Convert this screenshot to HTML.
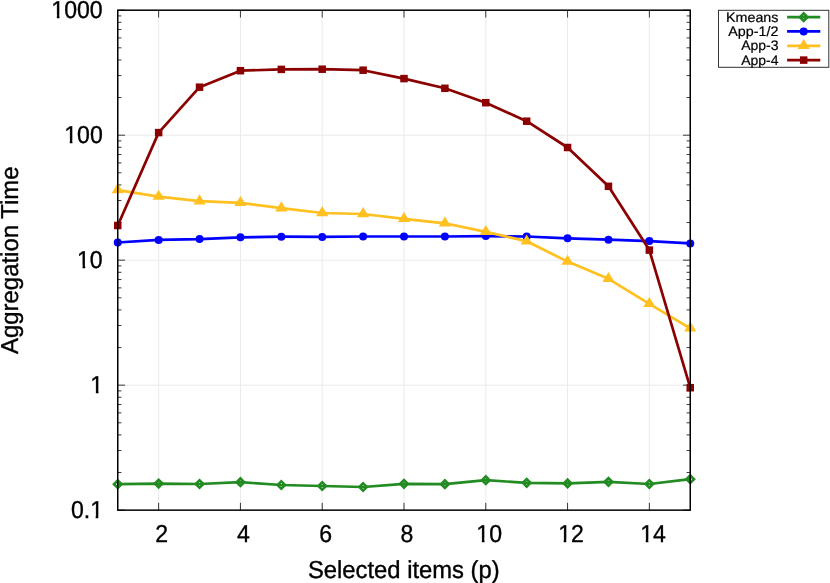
<!DOCTYPE html>
<html><head><meta charset="utf-8"><title>Aggregation Time</title>
<style>
html,body{margin:0;padding:0;background:#fff;}
body{width:830px;height:583px;overflow:hidden;position:relative;font-family:"Liberation Sans",sans-serif;}
.t{font-family:"Liberation Sans",sans-serif;fill:#000;text-rendering:geometricPrecision;}
</style></head><body>
<svg width="830" height="583" viewBox="0 0 830 583" style="position:absolute;left:0;top:0;will-change:transform">
<rect x="0" y="0" width="830" height="583" fill="#ffffff"/>
<line x1="158.64" y1="10.20" x2="158.64" y2="510.15" stroke="#eaeaea" stroke-width="1"/>
<line x1="240.43" y1="10.20" x2="240.43" y2="510.15" stroke="#eaeaea" stroke-width="1"/>
<line x1="322.21" y1="10.20" x2="322.21" y2="510.15" stroke="#eaeaea" stroke-width="1"/>
<line x1="404.00" y1="10.20" x2="404.00" y2="510.15" stroke="#eaeaea" stroke-width="1"/>
<line x1="485.79" y1="10.20" x2="485.79" y2="510.15" stroke="#eaeaea" stroke-width="1"/>
<line x1="567.57" y1="10.20" x2="567.57" y2="510.15" stroke="#eaeaea" stroke-width="1"/>
<line x1="649.36" y1="10.20" x2="649.36" y2="510.15" stroke="#eaeaea" stroke-width="1"/>
<line x1="117.75" y1="385.16" x2="690.25" y2="385.16" stroke="#eaeaea" stroke-width="1"/>
<line x1="117.75" y1="260.17" x2="690.25" y2="260.17" stroke="#eaeaea" stroke-width="1"/>
<line x1="117.75" y1="135.19" x2="690.25" y2="135.19" stroke="#eaeaea" stroke-width="1"/>
<path d="M158.64 510.15V502.85M158.64 10.20V17.50M240.43 510.15V502.85M240.43 10.20V17.50M322.21 510.15V502.85M322.21 10.20V17.50M404.00 510.15V502.85M404.00 10.20V17.50M485.79 510.15V502.85M485.79 10.20V17.50M567.57 510.15V502.85M567.57 10.20V17.50M649.36 510.15V502.85M649.36 10.20V17.50M117.75 510.15H125.05M690.25 510.15H682.95M117.75 472.53H121.45M690.25 472.53H686.55M117.75 450.52H121.45M690.25 450.52H686.55M117.75 434.90H121.45M690.25 434.90H686.55M117.75 422.79H121.45M690.25 422.79H686.55M117.75 412.89H121.45M690.25 412.89H686.55M117.75 404.52H121.45M690.25 404.52H686.55M117.75 397.28H121.45M690.25 397.28H686.55M117.75 390.88H121.45M690.25 390.88H686.55M117.75 385.16H125.05M690.25 385.16H682.95M117.75 347.54H121.45M690.25 347.54H686.55M117.75 325.53H121.45M690.25 325.53H686.55M117.75 309.91H121.45M690.25 309.91H686.55M117.75 297.80H121.45M690.25 297.80H686.55M117.75 287.90H121.45M690.25 287.90H686.55M117.75 279.54H121.45M690.25 279.54H686.55M117.75 272.29H121.45M690.25 272.29H686.55M117.75 265.89H121.45M690.25 265.89H686.55M117.75 260.17H125.05M690.25 260.17H682.95M117.75 222.55H121.45M690.25 222.55H686.55M117.75 200.54H121.45M690.25 200.54H686.55M117.75 184.93H121.45M690.25 184.93H686.55M117.75 172.81H121.45M690.25 172.81H686.55M117.75 162.92H121.45M690.25 162.92H686.55M117.75 154.55H121.45M690.25 154.55H686.55M117.75 147.30H121.45M690.25 147.30H686.55M117.75 140.91H121.45M690.25 140.91H686.55M117.75 135.19H125.05M690.25 135.19H682.95M117.75 97.56H121.45M690.25 97.56H686.55M117.75 75.55H121.45M690.25 75.55H686.55M117.75 59.94H121.45M690.25 59.94H686.55M117.75 47.82H121.45M690.25 47.82H686.55M117.75 37.93H121.45M690.25 37.93H686.55M117.75 29.56H121.45M690.25 29.56H686.55M117.75 22.31H121.45M690.25 22.31H686.55M117.75 15.92H121.45M690.25 15.92H686.55M117.75 10.20H125.05M690.25 10.20H682.95" fill="none" stroke="#000" stroke-width="0.78"/>
<polyline points="117.75,484.20 158.64,483.60 199.54,484.00 240.43,482.20 281.32,485.00 322.21,486.00 363.11,487.00 404.00,483.80 444.89,484.20 485.79,480.20 526.68,482.80 567.57,483.40 608.46,481.80 649.36,484.00 690.25,479.20" fill="none" stroke="#228b22" stroke-width="2.7" stroke-linejoin="round" stroke-linecap="butt"/>
<path d="M112.15 484.20L117.75 478.60L123.35 484.20L117.75 489.80ZM115.85 484.20L117.75 482.30L119.65 484.20L117.75 486.10Z" fill="#228b22" fill-rule="evenodd"/>
<path d="M153.04 483.60L158.64 478.00L164.24 483.60L158.64 489.20ZM156.74 483.60L158.64 481.70L160.54 483.60L158.64 485.50Z" fill="#228b22" fill-rule="evenodd"/>
<path d="M193.94 484.00L199.54 478.40L205.14 484.00L199.54 489.60ZM197.64 484.00L199.54 482.10L201.44 484.00L199.54 485.90Z" fill="#228b22" fill-rule="evenodd"/>
<path d="M234.83 482.20L240.43 476.60L246.03 482.20L240.43 487.80ZM238.53 482.20L240.43 480.30L242.33 482.20L240.43 484.10Z" fill="#228b22" fill-rule="evenodd"/>
<path d="M275.72 485.00L281.32 479.40L286.92 485.00L281.32 490.60ZM279.42 485.00L281.32 483.10L283.22 485.00L281.32 486.90Z" fill="#228b22" fill-rule="evenodd"/>
<path d="M316.61 486.00L322.21 480.40L327.81 486.00L322.21 491.60ZM320.31 486.00L322.21 484.10L324.11 486.00L322.21 487.90Z" fill="#228b22" fill-rule="evenodd"/>
<path d="M357.51 487.00L363.11 481.40L368.71 487.00L363.11 492.60ZM361.21 487.00L363.11 485.10L365.01 487.00L363.11 488.90Z" fill="#228b22" fill-rule="evenodd"/>
<path d="M398.40 483.80L404.00 478.20L409.60 483.80L404.00 489.40ZM402.10 483.80L404.00 481.90L405.90 483.80L404.00 485.70Z" fill="#228b22" fill-rule="evenodd"/>
<path d="M439.29 484.20L444.89 478.60L450.49 484.20L444.89 489.80ZM442.99 484.20L444.89 482.30L446.79 484.20L444.89 486.10Z" fill="#228b22" fill-rule="evenodd"/>
<path d="M480.19 480.20L485.79 474.60L491.39 480.20L485.79 485.80ZM483.89 480.20L485.79 478.30L487.69 480.20L485.79 482.10Z" fill="#228b22" fill-rule="evenodd"/>
<path d="M521.08 482.80L526.68 477.20L532.28 482.80L526.68 488.40ZM524.78 482.80L526.68 480.90L528.58 482.80L526.68 484.70Z" fill="#228b22" fill-rule="evenodd"/>
<path d="M561.97 483.40L567.57 477.80L573.17 483.40L567.57 489.00ZM565.67 483.40L567.57 481.50L569.47 483.40L567.57 485.30Z" fill="#228b22" fill-rule="evenodd"/>
<path d="M602.86 481.80L608.46 476.20L614.06 481.80L608.46 487.40ZM606.56 481.80L608.46 479.90L610.36 481.80L608.46 483.70Z" fill="#228b22" fill-rule="evenodd"/>
<path d="M643.76 484.00L649.36 478.40L654.96 484.00L649.36 489.60ZM647.46 484.00L649.36 482.10L651.26 484.00L649.36 485.90Z" fill="#228b22" fill-rule="evenodd"/>
<path d="M684.65 479.20L690.25 473.60L695.85 479.20L690.25 484.80ZM688.35 479.20L690.25 477.30L692.15 479.20L690.25 481.10Z" fill="#228b22" fill-rule="evenodd"/>
<polyline points="117.75,242.50 158.64,239.90 199.54,239.10 240.43,237.30 281.32,236.70 322.21,236.90 363.11,236.50 404.00,236.50 444.89,236.50 485.79,236.10 526.68,236.50 567.57,238.30 608.46,239.70 649.36,241.10 690.25,243.40" fill="none" stroke="#0000ff" stroke-width="2.7" stroke-linejoin="round" stroke-linecap="butt"/>
<circle cx="117.75" cy="242.50" r="4.0" fill="#0000ff"/>
<circle cx="158.64" cy="239.90" r="4.0" fill="#0000ff"/>
<circle cx="199.54" cy="239.10" r="4.0" fill="#0000ff"/>
<circle cx="240.43" cy="237.30" r="4.0" fill="#0000ff"/>
<circle cx="281.32" cy="236.70" r="4.0" fill="#0000ff"/>
<circle cx="322.21" cy="236.90" r="4.0" fill="#0000ff"/>
<circle cx="363.11" cy="236.50" r="4.0" fill="#0000ff"/>
<circle cx="404.00" cy="236.50" r="4.0" fill="#0000ff"/>
<circle cx="444.89" cy="236.50" r="4.0" fill="#0000ff"/>
<circle cx="485.79" cy="236.10" r="4.0" fill="#0000ff"/>
<circle cx="526.68" cy="236.50" r="4.0" fill="#0000ff"/>
<circle cx="567.57" cy="238.30" r="4.0" fill="#0000ff"/>
<circle cx="608.46" cy="239.70" r="4.0" fill="#0000ff"/>
<circle cx="649.36" cy="241.10" r="4.0" fill="#0000ff"/>
<circle cx="690.25" cy="243.40" r="4.0" fill="#0000ff"/>
<polyline points="117.75,190.10 158.64,196.60 199.54,201.20 240.43,202.80 281.32,208.20 322.21,213.00 363.11,214.00 404.00,218.80 444.89,223.30 485.79,231.90 526.68,241.30 567.57,261.60 608.46,278.80 649.36,303.90 690.25,328.30" fill="none" stroke="#ffc020" stroke-width="2.7" stroke-linejoin="round" stroke-linecap="butt"/>
<path d="M117.75 183.20L111.65 193.30L123.85 193.30Z" fill="#ffc020"/>
<path d="M158.64 189.70L152.54 199.80L164.74 199.80Z" fill="#ffc020"/>
<path d="M199.54 194.30L193.44 204.40L205.64 204.40Z" fill="#ffc020"/>
<path d="M240.43 195.90L234.33 206.00L246.53 206.00Z" fill="#ffc020"/>
<path d="M281.32 201.30L275.22 211.40L287.42 211.40Z" fill="#ffc020"/>
<path d="M322.21 206.10L316.11 216.20L328.31 216.20Z" fill="#ffc020"/>
<path d="M363.11 207.10L357.01 217.20L369.21 217.20Z" fill="#ffc020"/>
<path d="M404.00 211.90L397.90 222.00L410.10 222.00Z" fill="#ffc020"/>
<path d="M444.89 216.40L438.79 226.50L450.99 226.50Z" fill="#ffc020"/>
<path d="M485.79 225.00L479.69 235.10L491.89 235.10Z" fill="#ffc020"/>
<path d="M526.68 234.40L520.58 244.50L532.78 244.50Z" fill="#ffc020"/>
<path d="M567.57 254.70L561.47 264.80L573.67 264.80Z" fill="#ffc020"/>
<path d="M608.46 271.90L602.36 282.00L614.56 282.00Z" fill="#ffc020"/>
<path d="M649.36 297.00L643.26 307.10L655.46 307.10Z" fill="#ffc020"/>
<path d="M690.25 321.40L684.15 331.50L696.35 331.50Z" fill="#ffc020"/>
<polyline points="117.75,225.50 158.64,132.60 199.54,87.20 240.43,70.70 281.32,69.40 322.21,69.20 363.11,70.20 404.00,78.60 444.89,88.30 485.79,102.70 526.68,121.20 567.57,147.50 608.46,186.30 649.36,250.10 690.25,387.70" fill="none" stroke="#8b0000" stroke-width="2.7" stroke-linejoin="round" stroke-linecap="butt"/>
<rect x="114.00" y="221.75" width="7.50" height="7.50" fill="#8b0000"/>
<rect x="154.89" y="128.85" width="7.50" height="7.50" fill="#8b0000"/>
<rect x="195.79" y="83.45" width="7.50" height="7.50" fill="#8b0000"/>
<rect x="236.68" y="66.95" width="7.50" height="7.50" fill="#8b0000"/>
<rect x="277.57" y="65.65" width="7.50" height="7.50" fill="#8b0000"/>
<rect x="318.46" y="65.45" width="7.50" height="7.50" fill="#8b0000"/>
<rect x="359.36" y="66.45" width="7.50" height="7.50" fill="#8b0000"/>
<rect x="400.25" y="74.85" width="7.50" height="7.50" fill="#8b0000"/>
<rect x="441.14" y="84.55" width="7.50" height="7.50" fill="#8b0000"/>
<rect x="482.04" y="98.95" width="7.50" height="7.50" fill="#8b0000"/>
<rect x="522.93" y="117.45" width="7.50" height="7.50" fill="#8b0000"/>
<rect x="563.82" y="143.75" width="7.50" height="7.50" fill="#8b0000"/>
<rect x="604.71" y="182.55" width="7.50" height="7.50" fill="#8b0000"/>
<rect x="645.61" y="246.35" width="7.50" height="7.50" fill="#8b0000"/>
<rect x="686.50" y="383.95" width="7.50" height="7.50" fill="#8b0000"/>
<rect x="117.75" y="10.20" width="572.50" height="499.95" fill="none" stroke="#000" stroke-width="1.5"/>
<rect x="718.50" y="10.30" width="110.30" height="57.00" fill="none" stroke="#333" stroke-width="1"/>
<line x1="787.1" y1="17.20" x2="820.3" y2="17.20" stroke="#228b22" stroke-width="2.7"/>
<path d="M798.10 17.20L803.70 11.60L809.30 17.20L803.70 22.80ZM801.80 17.20L803.70 15.30L805.60 17.20L803.70 19.10Z" fill="#228b22" fill-rule="evenodd"/>
<g transform="translate(778.50 21.70) scale(1.047 1.0)"><text text-anchor="end" font-size="13.7" stroke="#000" stroke-width="0.2" class="t">Kmeans</text></g>
<line x1="787.1" y1="31.45" x2="820.3" y2="31.45" stroke="#0000ff" stroke-width="2.7"/>
<circle cx="803.70" cy="31.45" r="4.0" fill="#0000ff"/>
<g transform="translate(778.50 35.95) scale(1.047 1.0)"><text text-anchor="end" font-size="13.7" stroke="#000" stroke-width="0.2" class="t">App-1/2</text></g>
<line x1="787.1" y1="45.90" x2="820.3" y2="45.90" stroke="#ffc020" stroke-width="2.7"/>
<path d="M803.70 39.00L797.60 49.10L809.80 49.10Z" fill="#ffc020"/>
<g transform="translate(778.50 50.40) scale(1.022 1.0)"><text text-anchor="end" font-size="13.7" stroke="#000" stroke-width="0.2" class="t">App-3</text></g>
<line x1="787.1" y1="60.10" x2="820.3" y2="60.10" stroke="#8b0000" stroke-width="2.7"/>
<rect x="799.95" y="56.35" width="7.50" height="7.50" fill="#8b0000"/>
<g transform="translate(778.50 64.60) scale(1.022 1.0)"><text text-anchor="end" font-size="13.7" stroke="#000" stroke-width="0.2" class="t">App-4</text></g>
<g transform="translate(102.70 17.60) scale(0.97 1.03)"><text text-anchor="end" font-size="23.8" stroke="#000" stroke-width="0.35" class="t">1000</text><rect x="-52.233" y="-2.378" width="4.952" height="3.978" fill="#fff"/><rect x="-44.537" y="-2.378" width="4.766" height="3.978" fill="#fff"/></g>
<g transform="translate(102.80 142.66) scale(0.97 1.03)"><text text-anchor="end" font-size="23.8" stroke="#000" stroke-width="0.35" class="t">100</text><rect x="-38.996" y="-2.378" width="4.952" height="3.978" fill="#fff"/><rect x="-31.301" y="-2.378" width="4.766" height="3.978" fill="#fff"/></g>
<g transform="translate(102.70 267.52) scale(0.97 1.03)"><text text-anchor="end" font-size="23.8" stroke="#000" stroke-width="0.35" class="t">10</text><rect x="-25.760" y="-2.378" width="4.952" height="3.978" fill="#fff"/><rect x="-18.065" y="-2.378" width="4.766" height="3.978" fill="#fff"/></g>
<g transform="translate(103.20 393.20) scale(0.97 1.03)"><text text-anchor="end" font-size="23.8" stroke="#000" stroke-width="0.35" class="t">1</text><rect x="-12.524" y="-2.378" width="4.952" height="3.978" fill="#fff"/><rect x="-4.828" y="-2.378" width="4.766" height="3.978" fill="#fff"/></g>
<g transform="translate(103.00 518.30) scale(0.97 1.03)"><text text-anchor="end" font-size="23.8" stroke="#000" stroke-width="0.35" class="t">0.1</text><rect x="-12.524" y="-2.378" width="4.952" height="3.978" fill="#fff"/><rect x="-4.828" y="-2.378" width="4.766" height="3.978" fill="#fff"/></g>
<g transform="translate(161.79 541.90) scale(0.97 1.03)"><text text-anchor="middle" font-size="23.8" stroke="#000" stroke-width="0.35" class="t">2</text></g>
<g transform="translate(243.43 541.90) scale(0.97 1.03)"><text text-anchor="middle" font-size="23.8" stroke="#000" stroke-width="0.35" class="t">4</text></g>
<g transform="translate(325.61 541.90) scale(0.97 1.03)"><text text-anchor="middle" font-size="23.8" stroke="#000" stroke-width="0.35" class="t">6</text></g>
<g transform="translate(406.90 541.90) scale(0.97 1.03)"><text text-anchor="middle" font-size="23.8" stroke="#000" stroke-width="0.35" class="t">8</text></g>
<g transform="translate(489.19 541.90) scale(0.97 1.03)"><text text-anchor="middle" font-size="23.8" stroke="#000" stroke-width="0.35" class="t">10</text><rect x="-12.524" y="-2.378" width="4.952" height="3.978" fill="#fff"/><rect x="-4.828" y="-2.378" width="4.766" height="3.978" fill="#fff"/></g>
<g transform="translate(570.97 541.90) scale(0.97 1.03)"><text text-anchor="middle" font-size="23.8" stroke="#000" stroke-width="0.35" class="t">12</text><rect x="-12.524" y="-2.378" width="4.952" height="3.978" fill="#fff"/><rect x="-4.828" y="-2.378" width="4.766" height="3.978" fill="#fff"/></g>
<g transform="translate(653.06 541.90) scale(0.97 1.03)"><text text-anchor="middle" font-size="23.8" stroke="#000" stroke-width="0.35" class="t">14</text><rect x="-12.524" y="-2.378" width="4.952" height="3.978" fill="#fff"/><rect x="-4.828" y="-2.378" width="4.766" height="3.978" fill="#fff"/></g>
<g transform="translate(403.80 577.60) scale(1.0 1.03)"><text text-anchor="middle" font-size="23.8" stroke="#000" stroke-width="0.35" class="t">Selected items (p)</text></g>
<g transform="translate(18.00 260.25) rotate(-90) scale(1.005 1.03)"><text text-anchor="middle" font-size="23.8" stroke="#000" stroke-width="0.35" class="t">Aggregation Time</text></g>
</svg>
</body></html>
